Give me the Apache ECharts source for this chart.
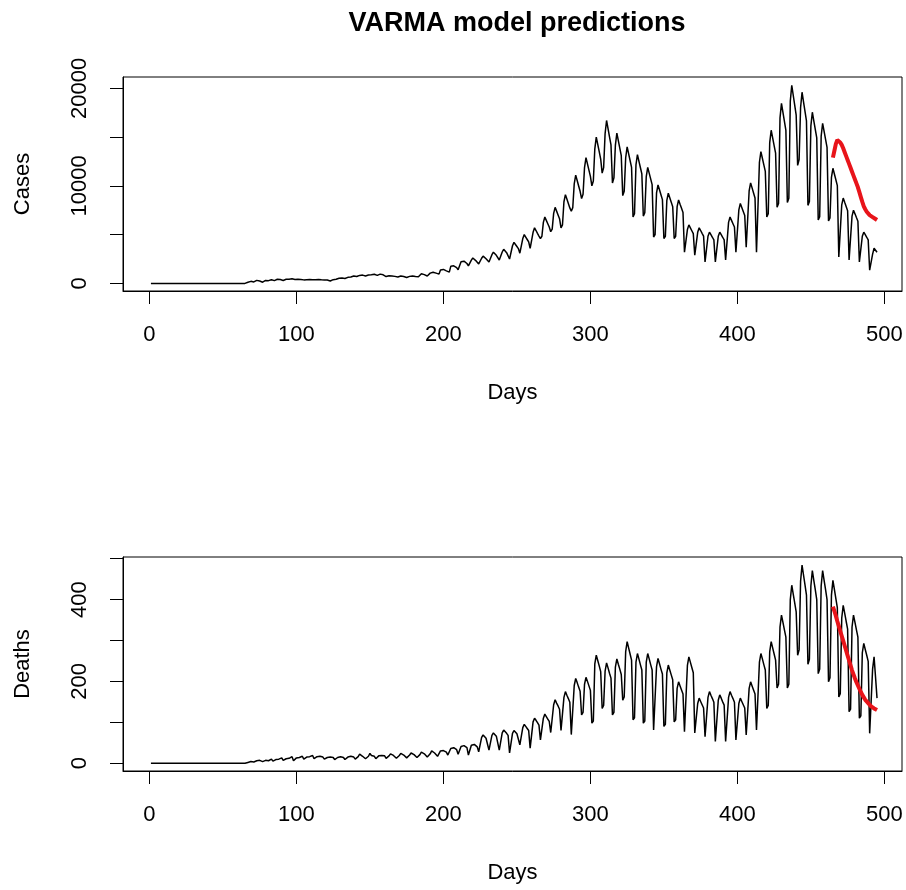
<!DOCTYPE html>
<html>
<head>
<meta charset="utf-8">
<script src="https://cdn.jsdelivr.net/npm/echarts@6/dist/echarts.min.js"></script>
<style>html,body{margin:0;padding:0;background:#fff;}#chart{width:906px;height:890px;}</style>
</head>
<body>
<div id="chart"></div>
<script>
// Daily observed cases, day 1 .. 495
const cases = [
0,
0,0,0,0,0,0,0, 0,0,0,0,0,0,0, 0,0,0,0,0,0,0, 0,0,0,0,0,0,0, 0,0,0,0,0,0,0,
0,0,0,0,0,0,0, 0,0,0,0,0,0,0, 0,0,0,0,0,0,0, 0,0,0,0,0,0,0,
0,0,120,60,210,90,150,
260,310,180,240,330,120,200,
300,350,280,320,380,220,280,
360,420,380,400,440,300,350,
420,460,430,400,470,380,400,
450,420,380,400,380,360,370,
380,400,390,370,380,360,380,
390,400,380,370,380,350,360,
340,300,250,200,380,300,420,
480,520,450,560,600,500,560,
620,700,650,720,760,620,700,
760,820,780,850,880,760,800,
860,900,880,920,940,780,820,
900,950,900,880,860,700,740,
780,820,760,740,720,620,660,
700,760,720,700,680,600,640,
720,800,760,740,700,620,680,
880,980,940,900,860,760,820,
1050,1200,1150,1100,1050,880,950,
1380,1500,1430,1350,1280,1100,1160,
1750,1900,1800,1710,1620,1400,1470,
2210,2400,2280,2160,2040,1800,1890,
2390,2600,2470,2340,2210,2000,2100,
2580,2800,2660,2520,2380,2200,2310,
2940,3200,3040,2880,2720,2400,2520,
3220,3500,3330,3150,2980,2500,2630,
3860,4200,3990,3780,3570,3100,3260,
4600,5000,4750,4500,4250,3600,3780,
5240,5700,5420,5130,4850,4600,4830,
6260,6800,6460,6120,5780,5300,5570,
7180,7800,7410,7020,6630,5700,5990,
8370,9100,8650,8190,7740,7400,7770,
10210,11100,10550,9990,9440,8700,9140,
11870,12900,12260,11610,10970,10000,10500,
13800,15000,14250,13500,12750,11300,11870,
15360,16700,15870,15030,14200,10300,10820,
14170,15400,14630,13860,13090,9000,9450,
12880,14000,13300,12600,11900,6800,7140,
12140,13200,12540,11880,11220,6900,7250,
10950,11900,11310,10710,10120,4750,4990,
9290,10100,9600,9090,8590,4600,4830,
8510,9250,8790,8330,7860,4600,4830,
7870,8550,8120,7700,7270,3200,3360,
5520,6000,5700,5400,5100,2900,3050,
5240,5700,5420,5130,4850,2200,2310,
4830,5250,4990,4730,4460,2200,2310,
4830,5250,4990,4730,4460,2400,2520,
6260,6800,6460,6120,5780,3200,3360,
7540,8200,7790,7380,6970,3700,3890,
9480,10300,9790,9270,8760,3200,3360,
12420,13500,12830,12150,11480,6800,7140,
14440,15700,14920,14130,13350,7800,8190,
16970,18450,17530,16610,15680,8300,8720,
18680,20300,19290,18270,17260,12100,12700,
18030,19600,18620,17640,16660,8000,8400,
16150,17550,16670,15800,14920,6500,6830,
15090,16400,15580,14760,13940,6400,6720,
10860,11800,11210,10620,10030,2700,2840,
8050,8750,8310,7880,7440,2400,2520,
6900,7500,7130,6750,6380,2200,2310,
4830,5250,4990,4730,4460,1350,1420,
3000,3600,3400,3200
];

// Daily observed deaths, day 1 .. 495
const deaths = [
0,
0,0,0,0,0,0,0, 0,0,0,0,0,0,0, 0,0,0,0,0,0,0, 0,0,0,0,0,0,0, 0,0,0,0,0,0,0,
0,0,0,0,0,0,0, 0,0,0,0,0,0,0, 0,0,0,0,0,0,0, 0,0,0,0,0,0,0,
0,0,2,1,4,2,3,
5,6,3,7,8,4,6,
7,9,6,8,10,5,7,
9,12,10,11,13,7,9,
11,14,12,15,16,6,10,
13,16,14,15,17,10,12,
15,18,16,17,19,11,13,
16,18,17,16,15,10,12,
14,17,15,16,14,9,11,
14,17,16,15,14,9,11,
15,19,17,16,15,10,12,
16,22,18,17,16,11,13,
17,24,19,18,17,11,14,
18,22,19,20,18,12,14,
18,23,20,19,18,12,14,
19,24,21,20,19,13,15,
20,25,22,21,20,14,16,
21,27,24,23,21,15,17,
23,30,27,25,23,17,19,
30,33,31,29,27,20,22,
36,40,38,36,33,22,24,
41,45,43,40,38,20,23,
44,48,46,43,40,28,30,
63,69,65,61,58,32,35,
68,74,70,66,62,32,35,
74,81,77,73,68,25,28,
73,80,76,72,68,45,48,
87,95,90,85,80,37,40,
101,110,105,99,93,57,60,
110,120,114,108,102,75,79,
143,155,147,140,132,80,84,
161,175,166,158,149,70,74,
190,207,197,186,176,118,124,
193,210,200,189,178,98,103,
243,264,251,238,224,134,141,
225,245,233,220,208,118,124,
235,255,242,230,217,154,162,
273,297,282,267,252,106,111,
247,268,255,241,228,98,103,
247,268,255,241,228,81,85,
236,256,243,230,218,90,95,
221,240,228,216,204,101,106,
183,199,189,179,169,77,81,
239,260,247,234,221,74,78,
146,159,151,143,135,65,68,
161,175,166,158,149,53,56,
154,167,159,150,142,53,56,
161,175,166,158,149,57,60,
146,159,151,143,135,69,72,
183,199,189,179,169,81,85,
247,268,255,241,228,134,141,
273,297,282,267,252,184,193,
333,362,344,326,308,184,193,
400,435,413,392,370,264,277,
445,484,460,436,411,242,254,
433,471,447,424,400,219,230,
433,471,447,424,400,199,209,
411,447,425,402,380,162,170,
355,386,367,347,328,126,132,
333,362,344,326,308,110,116,
270,293,278,264,249,73,77,
230,260,210,159
];

// VARMA predictions, starting at day 465
const predStartDay = 465;
const predCases = [12900,13600,14300,14700,14650,14450,14200,13850,13450,13050,12650,12250,11850,11450,11050,10650,10250,9850,9350,8850,8350,7900,7600,7350,7150,7000,6900,6800,6700,6600,6500];
const predDeaths = [383,372,360,347,335,323,311,299,287,275,263,251,239,227,217,207,198,190,182,174,167,161,155,151,147,143,139,136,134,132,130];

const xTicks = [0,100,200,300,400,500];
const casesTicks = [0,5000,10000,15000,20000];
const casesLabels = [0,10000,20000];
const deathsTicks = [0,100,200,300,400,500];
const deathsLabels = [0,200,400];

const FONT = "'Liberation Sans', Arial, sans-serif";
const txt = {color:'#000', fontFamily:FONT, fontSize:22};
const plain = v => String(v);

function xAxis(gi){
  return {
    type:'value', gridIndex:gi, min:-18, max:512,
    name:'Days', nameLocation:'middle', nameGap:91,
    nameTextStyle:Object.assign({}, txt),
    axisLine:{show:true, onZero:false, lineStyle:{color:'#000', width:1}},
    axisTick:{show:true, inside:false, length:13, customValues:xTicks, lineStyle:{color:'#000', width:1}},
    axisLabel:Object.assign({show:true, margin:33, customValues:xTicks, formatter:plain}, txt),
    splitLine:{show:false}
  };
}
function yAxis(gi, min, max, ticks, labels, name){
  return {
    type:'value', gridIndex:gi, min:min, max:max,
    name:name, nameLocation:'middle', nameGap:89, nameRotate:90,
    nameTextStyle:Object.assign({}, txt),
    axisLine:{show:true, onZero:false, lineStyle:{color:'#000', width:1}},
    axisTick:{show:true, inside:false, length:13, customValues:ticks, lineStyle:{color:'#000', width:1}},
    axisLabel:Object.assign({show:true, rotate:90, margin:32, customValues:labels, formatter:plain}, txt),
    splitLine:{show:false}
  };
}

const chart = echarts.init(document.getElementById('chart'), null, {renderer:'canvas'});
chart.setOption({
  animation:false,
  backgroundColor:'#fff',
  title:{text:'VARMA model predictions', left:512, top:5, textAlign:'center',
    textStyle:{color:'#000', fontFamily:FONT, fontSize:27, fontWeight:'bold'}},
  grid:[
    {left:123, top:77, width:779, height:214, show:true, borderColor:'#000', borderWidth:1, backgroundColor:'transparent'},
    {left:123, top:557, width:779, height:214, show:true, borderColor:'#000', borderWidth:1, backgroundColor:'transparent'}
  ],
  xAxis:[xAxis(0), xAxis(1)],
  yAxis:[
    yAxis(0, -780, 21160, casesTicks, casesLabels, 'Cases'),
    yAxis(1, -19, 504, deathsTicks, deathsLabels, 'Deaths')
  ],
  series:[
    {type:'line', xAxisIndex:0, yAxisIndex:0, showSymbol:false, symbol:'none',
      lineStyle:{color:'#000', width:1.5}, data:cases.map((v,i)=>[i+1,v])},
    {type:'line', xAxisIndex:0, yAxisIndex:0, showSymbol:false, symbol:'none',
      lineStyle:{color:'#e8141a', width:4}, data:predCases.map((v,i)=>[predStartDay+i,v])},
    {type:'line', xAxisIndex:1, yAxisIndex:1, showSymbol:false, symbol:'none',
      lineStyle:{color:'#000', width:1.5}, data:deaths.map((v,i)=>[i+1,v])},
    {type:'line', xAxisIndex:1, yAxisIndex:1, showSymbol:false, symbol:'none',
      lineStyle:{color:'#e8141a', width:4}, data:predDeaths.map((v,i)=>[predStartDay+i,v])}
  ]
});
</script>
</body>
</html>
